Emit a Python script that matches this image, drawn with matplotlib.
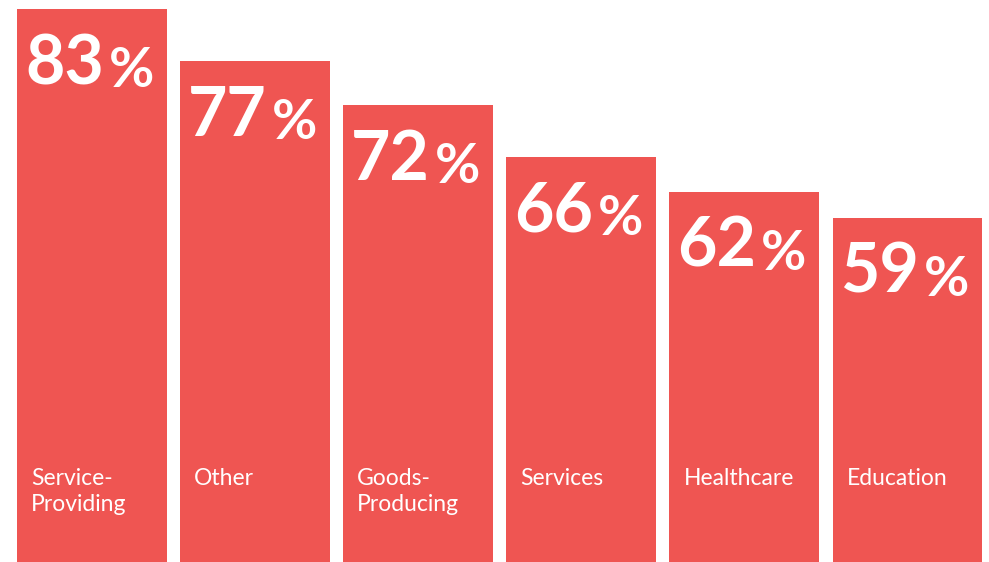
import matplotlib.pyplot as plt

# data
categories = ["Service-\nProviding", "Other", "Goods-\nProducing", "Services", "Healthcare", "Education"]
values = [83, 77, 72, 66, 62, 59]

BAR_COLOR = "#EF5552"
plt.rcParams["font.family"] = ["Lato", "DejaVu Sans"]

fig = plt.figure(figsize=(9.89, 5.62), dpi=100)
ax = fig.add_axes([0, 0, 1, 1])

x = list(range(len(values)))
width = 0.92
bars = ax.bar(x, values, width=width, color=BAR_COLOR)

ax.set_xlim(-0.567, 5.5)
ax.set_ylim(19.44, 84.04)
ax.axis("off")

for xi, v, cat in zip(x, values, categories):
    left = xi - width / 2
    # big number
    num = ax.annotate(str(v), xy=(left, v), xycoords="data",
                      xytext=(5.5, -54), textcoords="offset points",
                      ha="left", va="baseline", color="white",
                      fontsize=49, fontweight="bold")
    ax.annotate("%", xy=(1, 0), xycoords=num,
                xytext=(3.5, 0), textcoords="offset points",
                ha="left", va="bottom", color="white",
                fontsize=40, fontweight="bold")
    # category label near bottom of bar
    ax.annotate(cat, xy=(left, 19.44), xycoords="data",
                xytext=(10, 68), textcoords="offset points",
                ha="left", va="top", color="white",
                fontsize=16.5, linespacing=1.32)

fig.savefig("out.png", dpi=100)
